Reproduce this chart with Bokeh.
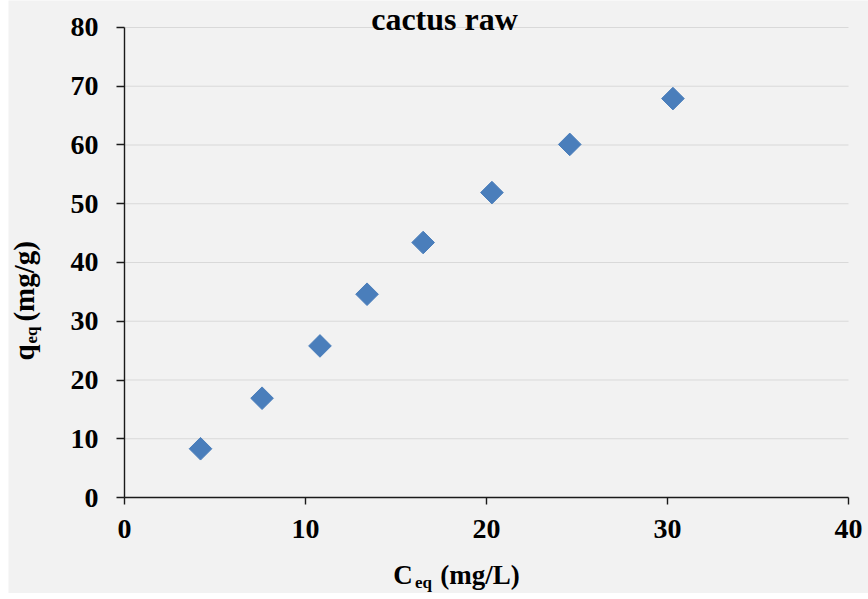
import math
from bokeh.plotting import figure
from bokeh.models import Range1d, FixedTicker, Label, ColumnDataSource
from bokeh.embed import file_html
from bokeh.resources import INLINE

# Data
ceq = [4.2, 7.6, 10.8, 13.4, 16.5, 20.3, 24.6, 30.3]
qeq = [8.3, 16.9, 25.8, 34.6, 43.4, 51.9, 60.1, 67.9]
x_ticks = [0, 10, 20, 30, 40]
y_ticks = [0, 10, 20, 30, 40, 50, 60, 70, 80]
title_text = "cactus raw"
x_label_parts = ["C", "eq", "(mg/L)"]
y_label_parts = ["q", "eq", "(mg/g)"]

FONT = "Liberation Serif"
BG = "#f2f2f2"

# Layout: the frame fills the whole canvas; axes sit at the data origin.
X0, X1 = 0, 40
Y0, Y1 = 0, 80
p = figure(width=860, height=593, output_backend="svg", toolbar_location=None,
           x_range=Range1d(-6.4088, 41.1050), y_range=Range1d(-16.3404, 84.5957),
           min_border_left=0, min_border_right=0, min_border_top=0,
           min_border_bottom=0)
p.margin = (0, 0, 6, 8)
p.background_fill_color = BG
p.border_fill_color = BG
p.outline_line_color = None
p.xgrid.visible = False
p.ygrid.visible = False

# horizontal grid lines at the y ticks, spanning the axis extent
p.segment(x0=[X0] * len(y_ticks), x1=[X1] * len(y_ticks), y0=y_ticks,
          y1=y_ticks, line_color="#d9d9d9", line_width=1)

for ax in (p.xaxis[0], p.yaxis[0]):
    ax.fixed_location = 0
    ax.axis_line_color = "#1a1a1a"
    ax.axis_line_width = 1.4
    ax.major_tick_line_color = "#1a1a1a"
    ax.major_tick_line_width = 1.4
    ax.minor_tick_line_color = None
    ax.major_tick_in = 0
    ax.major_label_text_font = FONT
    ax.major_label_text_font_style = "bold"
    ax.major_label_text_font_size = "28px"
    ax.major_label_text_color = "#000000"
    ax.axis_label = None

p.xaxis.bounds = (X0, X1)
p.yaxis.bounds = (Y0, Y1)
p.xaxis.ticker = FixedTicker(ticks=x_ticks)
p.yaxis.ticker = FixedTicker(ticks=y_ticks)
p.xaxis.major_tick_out = 7
p.yaxis.major_tick_out = 8
p.xaxis.major_label_standoff = 15
p.yaxis.major_label_standoff = 18

src = ColumnDataSource(dict(x=ceq, y=qeq))
p.scatter("x", "y", source=src, marker="square", size=16, angle=math.pi / 4,
          fill_color="#4a7ebb", line_color="#4a7ebb")


def add_label(**kw):
    base = dict(text_baseline="alphabetic", text_align="left", text_font=FONT,
                text_font_style="bold", text_color="#000000")
    base.update(kw)
    p.add_layout(Label(**base))


# Title
add_label(x=17.68, y=81.45, text=title_text, text_align="center",
          text_font_size="32px")

# X axis label: C_eq (mg/L)
add_label(x=14.85, y=-13.25, text=x_label_parts[0], text_font_size="27px")
add_label(x=16.05, y=-14.45, text=x_label_parts[1], text_font_size="17px")
add_label(x=17.45, y=-13.25, text=x_label_parts[2], text_font_size="27px")

# Y axis label: q_eq (mg/g)
add_label(x=-5.58, y=23.32, text=y_label_parts[0], angle=math.pi / 2,
          text_font_size="29px")
add_label(x=-5.14, y=26.21, text=y_label_parts[1], angle=math.pi / 2,
          text_font_size="17px")
add_label(x=-5.58, y=29.95, text=y_label_parts[2], angle=math.pi / 2,
          text_font_size="29px")

open("out.html", "w").write(file_html(p, INLINE))
